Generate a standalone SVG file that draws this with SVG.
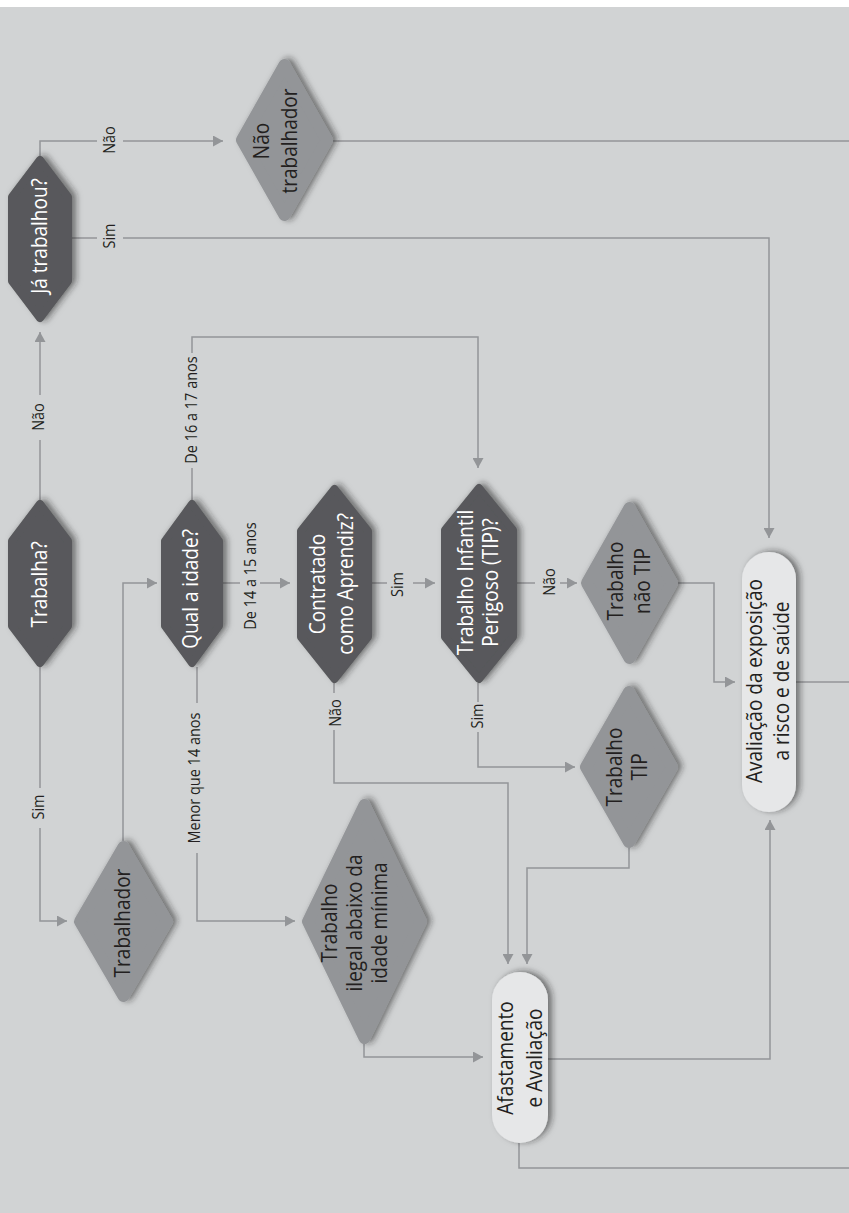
<svg xmlns="http://www.w3.org/2000/svg" width="849" height="1213" viewBox="0 0 849 1213">
<defs>
<style>
.bg{fill:#d1d3d4}
.dark{fill:#58595b;stroke:#58595b;stroke-width:8;stroke-linejoin:round}
.mid{fill:#939598;stroke:#939598;stroke-width:12;stroke-linejoin:round}
.light{fill:#e6e7e8}
.c{fill:none;stroke:#939598;stroke-width:1.5}
.t{font-family:"Open Sans","Liberation Sans",sans-serif;font-size:19px;text-anchor:middle}
.tw{fill:#ffffff}
.tk{fill:#231f20}
.lb{font-family:"Open Sans","Liberation Sans",sans-serif;font-size:14.5px;text-anchor:middle;fill:#231f20}
</style>
<marker id="ah" markerWidth="11" markerHeight="11" refX="10" refY="5.5" orient="auto" markerUnits="userSpaceOnUse"><path d="M0,0 L10,5.5 L0,11 z" fill="#939598"/></marker>
<filter id="sh" x="-40%" y="-30%" width="180%" height="160%"><feDropShadow dx="4" dy="-1" stdDeviation="3" flood-color="#231f20" flood-opacity="0.55"/></filter>
</defs>
<rect x="0" y="0" width="849" height="1213" fill="#ffffff"/>
<rect class="bg" x="0" y="7" width="849" height="1206"/>

<g id="connectors">
<path class="c" d="M40,500 V440"/>
<path class="c" d="M40,395 V332" marker-end="url(#ah)"/>
<path class="c" d="M40,667 V788"/>
<path class="c" d="M40,828 V921 H67" marker-end="url(#ah)"/>
<path class="c" d="M123,841 V583 H157" marker-end="url(#ah)"/>
<path class="c" d="M40,156 V141 H97"/>
<path class="c" d="M123,141 H223" marker-end="url(#ah)"/>
<path class="c" d="M72,238 H97"/>
<path class="c" d="M123,238 H769 V538" marker-end="url(#ah)"/>
<path class="c" d="M333,141 H849"/>
<path class="c" d="M192,500 V468"/>
<path class="c" d="M192,353 V337 H478 V468" marker-end="url(#ah)"/>
<path class="c" d="M223,583 H240"/>
<path class="c" d="M260,583 H290" marker-end="url(#ah)"/>
<path class="c" d="M197,667 V703"/>
<path class="c" d="M197,853 V921 H295" marker-end="url(#ah)"/>
<path class="c" d="M372,583 H387"/>
<path class="c" d="M413,583 H435" marker-end="url(#ah)"/>
<path class="c" d="M334,683 V693"/>
<path class="c" d="M334,730 V783 H508 V964" marker-end="url(#ah)"/>
<path class="c" d="M478,683 V702"/>
<path class="c" d="M478,732 V767 H575" marker-end="url(#ah)"/>
<path class="c" d="M517,583 H535"/>
<path class="c" d="M560,583 H577" marker-end="url(#ah)"/>
<path class="c" d="M678,583 H714 V682 H735" marker-end="url(#ah)"/>
<path class="c" d="M629,848 V868 H527 V964" marker-end="url(#ah)"/>
<path class="c" d="M364,1044 V1057 H483" marker-end="url(#ah)"/>
<path class="c" d="M548,1059 H770 V820" marker-end="url(#ah)"/>
<path class="c" d="M519,1143 V1168 H849"/>
<path class="c" d="M796,682 H849"/>
<text class="lb" transform="translate(44,417) rotate(-90) scale(1,1.15)">Não</text>
<text class="lb" transform="translate(44,807) rotate(-90) scale(1,1.15)">Sim</text>
<text class="lb" transform="translate(115,140) rotate(-90) scale(1,1.15)">Não</text>
<text class="lb" transform="translate(115,236) rotate(-90) scale(1,1.15)">Sim</text>
<text class="lb" transform="translate(197,410) rotate(-90) scale(1,1.15)">De 16 a 17 anos</text>
<text class="lb" transform="translate(256,576) rotate(-90) scale(1,1.15)">De 14 a 15 anos</text>
<text class="lb" transform="translate(200,778) rotate(-90) scale(1,1.15)">Menor que 14 anos</text>
<text class="lb" transform="translate(403,584.5) rotate(-90) scale(1,1.15)">Sim</text>
<text class="lb" transform="translate(341,713) rotate(-90) scale(1,1.15)">Não</text>
<text class="lb" transform="translate(483,716) rotate(-90) scale(1,1.15)">Sim</text>
<text class="lb" transform="translate(555,582) rotate(-90) scale(1,1.15)">Não</text>
</g>

<g id="ja-trabalhou">
<polygon class="dark" filter="url(#sh)" points="40,160 68,197 68,281 40,318 12,281 12,197"/>
<text class="t tw" transform="translate(47,236) rotate(-90) scale(1,1.15)">Já trabalhou?</text>
</g>
<g id="nao-trabalhador">
<polygon class="mid" filter="url(#sh)" points="284.5,65 327,140 284.5,215 242,140"/>
<text class="t tk" transform="translate(269,141) rotate(-90) scale(1,1.15)"><tspan x="0" y="0">Não</tspan><tspan x="0" y="24.3">trabalhador</tspan></text>
</g>
<g id="trabalha">
<polygon class="dark" filter="url(#sh)" points="40,504 68,541 68,626 40,663 12,626 12,541"/>
<text class="t tw" transform="translate(47,584.5) rotate(-90) scale(1,1.15)">Trabalha?</text>
</g>
<g id="qual-idade">
<polygon class="dark" filter="url(#sh)" points="192,504 219,541 219,626 192,663 165,626 165,541"/>
<text class="t tw" transform="translate(198,589) rotate(-90) scale(1,1.15)">Qual a idade?</text>
</g>
<g id="contratado">
<polygon class="dark" filter="url(#sh)" points="334.5,489 368,531 368,637 334.5,679 301,637 301,531"/>
<text class="t tw" transform="translate(325,584) rotate(-90) scale(1,1.15)"><tspan x="0" y="0">Contratado</tspan><tspan x="0" y="24.3">como Aprendiz?</tspan></text>
</g>
<g id="tip-pergunta">
<polygon class="dark" filter="url(#sh)" points="479,488 513,530 513,637 479,679 445,637 445,530"/>
<text class="t tw" transform="translate(473,582.5) rotate(-90) scale(1,1.15)"><tspan x="0" y="0">Trabalho Infantil</tspan><tspan x="0" y="21.7">Perigoso (TIP)?</tspan></text>
</g>
<g id="trabalho-nao-tip">
<polygon class="mid" filter="url(#sh)" points="629.5,508 672,583 629.5,658 587,583"/>
<text class="t tk" transform="translate(623,581) rotate(-90) scale(1,1.15)"><tspan x="0" y="0">Trabalho</tspan><tspan x="0" y="23.5">não TIP</tspan></text>
</g>
<g id="avaliacao-exposicao">
<rect class="light" filter="url(#sh)" x="742" y="552" width="54" height="260" rx="27" ry="27"/>
<text class="t tk" transform="translate(762,681) rotate(-90) scale(1,1.15)"><tspan x="0" y="0">Avaliação da exposição</tspan><tspan x="0" y="23.5">a risco e de saúde</tspan></text>
</g>
<g id="trabalho-tip">
<polygon class="mid" filter="url(#sh)" points="629,692 672,767 629,842 586,767"/>
<text class="t tk" transform="translate(622,767) rotate(-90) scale(1,1.15)"><tspan x="0" y="0">Trabalho</tspan><tspan x="0" y="21.7">TIP</tspan></text>
</g>
<g id="trabalhador">
<polygon class="mid" filter="url(#sh)" points="123.5,847 167,921.5 123.5,996 80,921.5"/>
<text class="t tk" transform="translate(130,923) rotate(-90) scale(1,1.15)">Trabalhador</text>
</g>
<g id="trabalho-ilegal">
<polygon class="mid" filter="url(#sh)" points="364.5,805 421,921.5 364.5,1038 308,921.5"/>
<text class="t tk" transform="translate(337,923) rotate(-90) scale(1,1.15)"><tspan x="0" y="0">Trabalho</tspan><tspan x="0" y="21.7">ilegal abaixo da</tspan><tspan x="0" y="43.5">idade mínima</tspan></text>
</g>
<g id="afastamento">
<rect class="light" filter="url(#sh)" x="492" y="972" width="56" height="171" rx="28" ry="28"/>
<text class="t tk" transform="translate(513,1058) rotate(-90) scale(1,1.15)"><tspan x="0" y="0">Afastamento</tspan><tspan x="0" y="25.2">e Avaliação</tspan></text>
</g>
</svg>
